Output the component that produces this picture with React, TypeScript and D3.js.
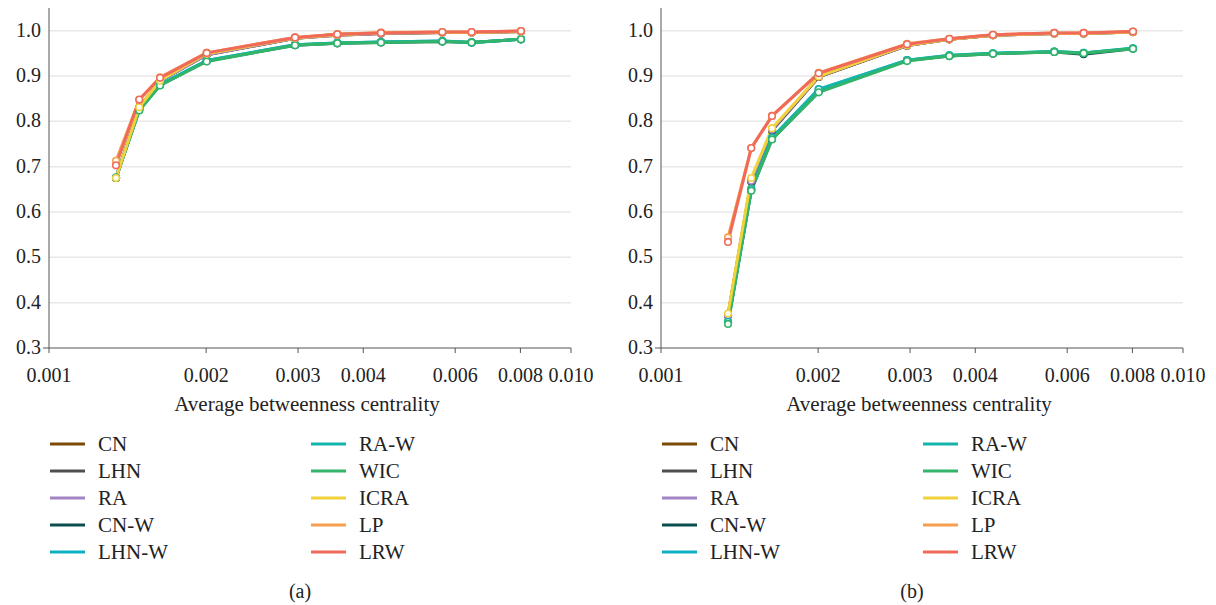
import React from "react";
import * as d3 from "d3";

const xValues = [0.001344, 0.001489, 0.001632, 0.002005, 0.00296, 0.003567, 0.004325, 0.005668, 0.006452, 0.00802];
const xTicks = [0.001, 0.002, 0.003, 0.004, 0.006, 0.008, 0.01];
const yTicks = [0.3, 0.4, 0.5, 0.6, 0.7, 0.8, 0.9, 1.0];

const seriesNames = ["CN", "LHN", "RA", "CN-W", "LHN-W", "RA-W", "WIC", "ICRA", "LP", "LRW"];
const seriesColors = ["#7a4a06", "#4f4f4f", "#a484c4", "#0d4f4f", "#10b0c2", "#14b5ac", "#33b46b", "#f2d23a", "#f6a04d", "#f06a5a"];

// Panel (a)
const aCN = [0.675, 0.830, 0.889, 0.947, 0.983, 0.990, 0.994, 0.996, 0.996, 0.998];
const aLHN = [0.675, 0.830, 0.889, 0.947, 0.983, 0.992, 0.994, 0.996, 0.996, 0.998];
const aRA = [0.676, 0.830, 0.889, 0.947, 0.983, 0.990, 0.994, 0.996, 0.996, 0.998];
const aCNW = [0.675, 0.825, 0.880, 0.933, 0.968, 0.972, 0.974, 0.976, 0.974, 0.981];
const aLHNW = [0.676, 0.827, 0.881, 0.934, 0.969, 0.973, 0.975, 0.977, 0.974, 0.981];
const aRAW = [0.676, 0.827, 0.881, 0.934, 0.969, 0.973, 0.975, 0.977, 0.974, 0.981];
const aWIC = [0.675, 0.824, 0.879, 0.932, 0.968, 0.972, 0.974, 0.976, 0.974, 0.981];
const aICRA = [0.675, 0.831, 0.890, 0.949, 0.984, 0.991, 0.995, 0.996, 0.996, 0.998];
const aLP = [0.713, 0.847, 0.897, 0.951, 0.985, 0.992, 0.996, 0.997, 0.997, 0.999];
const aLRW = [0.703, 0.848, 0.896, 0.951, 0.985, 0.992, 0.995, 0.997, 0.997, 0.999];

// Panel (b)
const bCN = [0.372, 0.668, 0.781, 0.898, 0.967, 0.981, 0.990, 0.994, 0.994, 0.997];
const bLHN = [0.371, 0.667, 0.780, 0.898, 0.967, 0.981, 0.990, 0.994, 0.994, 0.997];
const bRA = [0.372, 0.669, 0.782, 0.899, 0.967, 0.981, 0.990, 0.994, 0.994, 0.997];
const bCNW = [0.356, 0.648, 0.761, 0.866, 0.934, 0.944, 0.949, 0.953, 0.948, 0.960];
const bLHNW = [0.357, 0.650, 0.763, 0.870, 0.935, 0.945, 0.950, 0.954, 0.951, 0.961];
const bRAW = [0.358, 0.651, 0.764, 0.871, 0.935, 0.946, 0.950, 0.954, 0.951, 0.961];
const bWIC = [0.353, 0.647, 0.760, 0.864, 0.933, 0.944, 0.949, 0.953, 0.950, 0.960];
const bICRA = [0.376, 0.675, 0.785, 0.899, 0.968, 0.981, 0.990, 0.994, 0.994, 0.997];
const bLP = [0.544, 0.741, 0.812, 0.907, 0.971, 0.982, 0.991, 0.995, 0.995, 0.998];
const bLRW = [0.534, 0.741, 0.812, 0.906, 0.970, 0.982, 0.991, 0.995, 0.995, 0.998];

const panelA = [aCN, aLHN, aRA, aCNW, aLHNW, aRAW, aWIC, aICRA, aLP, aLRW];
const panelB = [bCN, bLHN, bRA, bCNW, bLHNW, bRAW, bWIC, bICRA, bLP, bLRW];

const TEXT = "#222";
const AXIS = "#555";
const txt = { fontFamily: '"Liberation Serif"' };

function Panel({ x0, x1, data, caption }: { x0: number; x1: number; data: number[][]; caption: string }) {
  const yTop = 8;
  const yBot = 348;
  const x = d3.scaleLog().domain([0.001, 0.01]).range([x0, x1]);
  const y = d3.scaleLinear().domain([0.3, 1.05]).range([yBot, yTop]);
  const line = d3
    .line<number>()
    .x((_, i) => x(xValues[i]))
    .y((d) => y(d));
  const fmtX = d3.format(".3f");
  const fmtY = d3.format(".1f");
  const cx = (x0 + x1) / 2;
  return (
    <g>
      {yTicks.slice(1).map((t) => (
        <line key={"g" + t} x1={x0} x2={x1} y1={y(t)} y2={y(t)} stroke="#e8e8e8" strokeWidth={1.5} />
      ))}
      <line x1={x0} x2={x0} y1={yTop} y2={yBot} stroke={AXIS} strokeWidth={1} />
      <line x1={x0 - 6} x2={x1} y1={yBot} y2={yBot} stroke={AXIS} strokeWidth={1} />
      {yTicks.map((t) => (
        <text key={"y" + t} x={x0 - 8} y={y(t) + 6} textAnchor="end" style={txt} fontSize={20} fill={TEXT}>
          {fmtY(t)}
        </text>
      ))}
      {xTicks.map((t) => (
        <g key={"x" + t}>
          <line x1={x(t)} x2={x(t)} y1={yBot} y2={yBot + 5} stroke={AXIS} strokeWidth={1} />
          <text x={x(t)} y={382} textAnchor="middle" style={txt} fontSize={20} fill={TEXT}>
            {fmtX(t)}
          </text>
        </g>
      ))}
      <text x={cx - 3} y={411} textAnchor="middle" style={txt} fontSize={21} fill={TEXT}>
        Average betweenness centrality
      </text>
      {data.map((s, k) => (
        <path key={"l" + k} d={line(s) || ""} fill="none" stroke={seriesColors[k]} strokeWidth={3} strokeLinejoin="round" />
      ))}
      {data.map((s, k) => (
        <g key={"m" + k}>
          {s.map((v, i) => (
            <circle key={i} cx={x(xValues[i])} cy={y(v)} r={3.3} fill="#fff" stroke={seriesColors[k]} strokeWidth={1.6} />
          ))}
        </g>
      ))}
      {seriesNames.map((n, k) => {
        const col = k < 5 ? 0 : 1;
        const row = k % 5;
        const lx = x0 + 1 + col * 261;
        const ly = 444 + row * 27;
        return (
          <g key={"lg" + n}>
            <line x1={lx} x2={lx + 35} y1={ly} y2={ly} stroke={seriesColors[k]} strokeWidth={3} />
            <text x={lx + 48} y={ly + 7} style={txt} fontSize={21} fill={TEXT}>
              {n}
            </text>
          </g>
        );
      })}
      <text x={x0 + 251} y={598} textAnchor="middle" style={txt} fontSize={20} fill={TEXT}>
        {caption}
      </text>
    </g>
  );
}

export default function App() {
  return (
    <svg
      width={1216}
      height={605}
      style={{ position: "absolute", left: 0, top: 0, background: "#fff" }}
    >
      <rect x={0} y={0} width={1216} height={605} fill="#fff" />
      <Panel x0={49} x1={571} data={panelA} caption="(a)" />
      <Panel x0={661} x1={1183} data={panelB} caption="(b)" />
    </svg>
  );
}
